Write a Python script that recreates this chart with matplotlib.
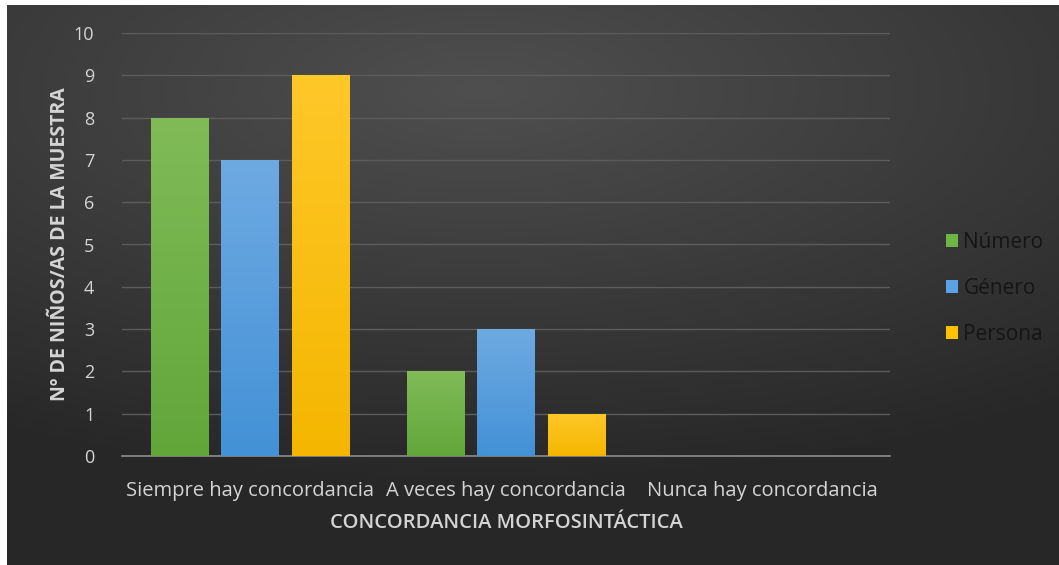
import numpy as np
import matplotlib
matplotlib.use("Agg")
import matplotlib.pyplot as plt
from matplotlib.patches import Patch

# datos
categorias = ["Siempre hay concordancia", "A veces hay concordancia", "Nunca hay concordancia"]
numero = [8, 2, 0]
genero = [7, 3, 0]
persona = [9, 1, 0]
series = ["Número", "Género", "Persona"]

# colores (arriba, abajo) para el degradado de cada serie
colores = {
    "Número": ("#80bb58", "#62a63a"),
    "Género": ("#6eaae2", "#4391d6"),
    "Persona": ("#ffc829", "#f4b600"),
}
legend_col = {"Número": "#6db544", "Género": "#5aa2e6", "Persona": "#ffc000"}

plt.rcParams['font.family'] = ['Open Sans', 'DejaVu Sans']

fig = plt.figure(figsize=(10.59, 5.65), dpi=100)
fig.patch.set_facecolor("white")

# fondo oscuro con degradado radial
bg = fig.add_axes([7 / 1059, 0, 1 - 7 / 1059, 1 - 5 / 565])
bg.set_axis_off()
xx, yy = np.meshgrid(np.linspace(0, 1, 400), np.linspace(0, 1, 220))
d = np.sqrt(((xx - 0.45) * 1.0) ** 2 + ((yy - 0.15) * 1.3) ** 2)
v = np.clip(0.31 - 0.17 * d, 0.155, 0.31)
img = np.dstack([v, v, v])
bg.imshow(img, aspect="auto", extent=[0, 1, 1, 0], interpolation="bilinear")
bg.set_xlim(0, 1)
bg.set_ylim(1, 0)

ax = fig.add_axes([122 / 1059, 1 - 456 / 565, 768 / 1059, 423 / 565])
ax.patch.set_alpha(0)

x = np.arange(len(categorias))
ancho = 0.223
desp = 0.276
datos = [numero, genero, persona]

for i, (nombre, vals) in enumerate(zip(series, datos)):
    top, bot = colores[nombre]
    c1 = np.array(matplotlib.colors.to_rgb(top))
    c2 = np.array(matplotlib.colors.to_rgb(bot))
    grad = np.linspace(0, 1, 100)[:, None, None]
    gimg = c1 * (1 - grad) + c2 * grad
    bars = ax.bar(x + (i - 1) * desp, vals, ancho, color="none", edgecolor="none", zorder=3)
    for b in bars:
        if b.get_height() <= 0:
            continue
        x0, y0, w, h = b.get_x(), b.get_y(), b.get_width(), b.get_height()
        im = ax.imshow(gimg, extent=[x0, x0 + w, y0, y0 + h], aspect="auto",
                       origin="upper", zorder=3)
        im.set_clip_path(b)

ax.set_xlim(-0.5, 2.5)
ax.set_ylim(0, 10)
ax.set_yticks(range(0, 11))
ax.set_xticks(x)
ax.set_xticklabels(categorias, fontsize=14.5)
ax.grid(axis="y", color="#5c5c5c", linewidth=1, zorder=0)
ax.set_axisbelow(True)
for s in ["top", "right", "left"]:
    ax.spines[s].set_visible(False)
ax.spines["bottom"].set_color("#8c8c8c")
ax.spines["bottom"].set_linewidth(1.2)
ax.tick_params(axis="both", length=0, colors="#d4d4d4")
ax.tick_params(axis="y", pad=20, labelsize=13)
ax.tick_params(axis="x", pad=18)

ax.set_ylabel("Nº DE NIÑOS/AS DE LA MUESTRA", color="#d4d4d4", fontsize=14,
              fontweight="bold", labelpad=3)
ax.set_xlabel("CONCORDANCIA MORFOSINTÁCTICA", color="#d4d4d4", fontsize=14.5,
              fontweight="semibold", labelpad=9)

handles = [Patch(facecolor=legend_col[n], edgecolor="none") for n in series]
leg = fig.legend(handles, series, loc="center left", bbox_to_anchor=(927 / 1059, 1 - 288 / 565),
                 frameon=False, fontsize=15, labelspacing=1.2, handlelength=0.6,
                 handleheight=0.6, handletextpad=0.25)
for t in leg.get_texts():
    t.set_color("#151515")

fig.savefig("out.png", dpi=100, facecolor=fig.get_facecolor())
